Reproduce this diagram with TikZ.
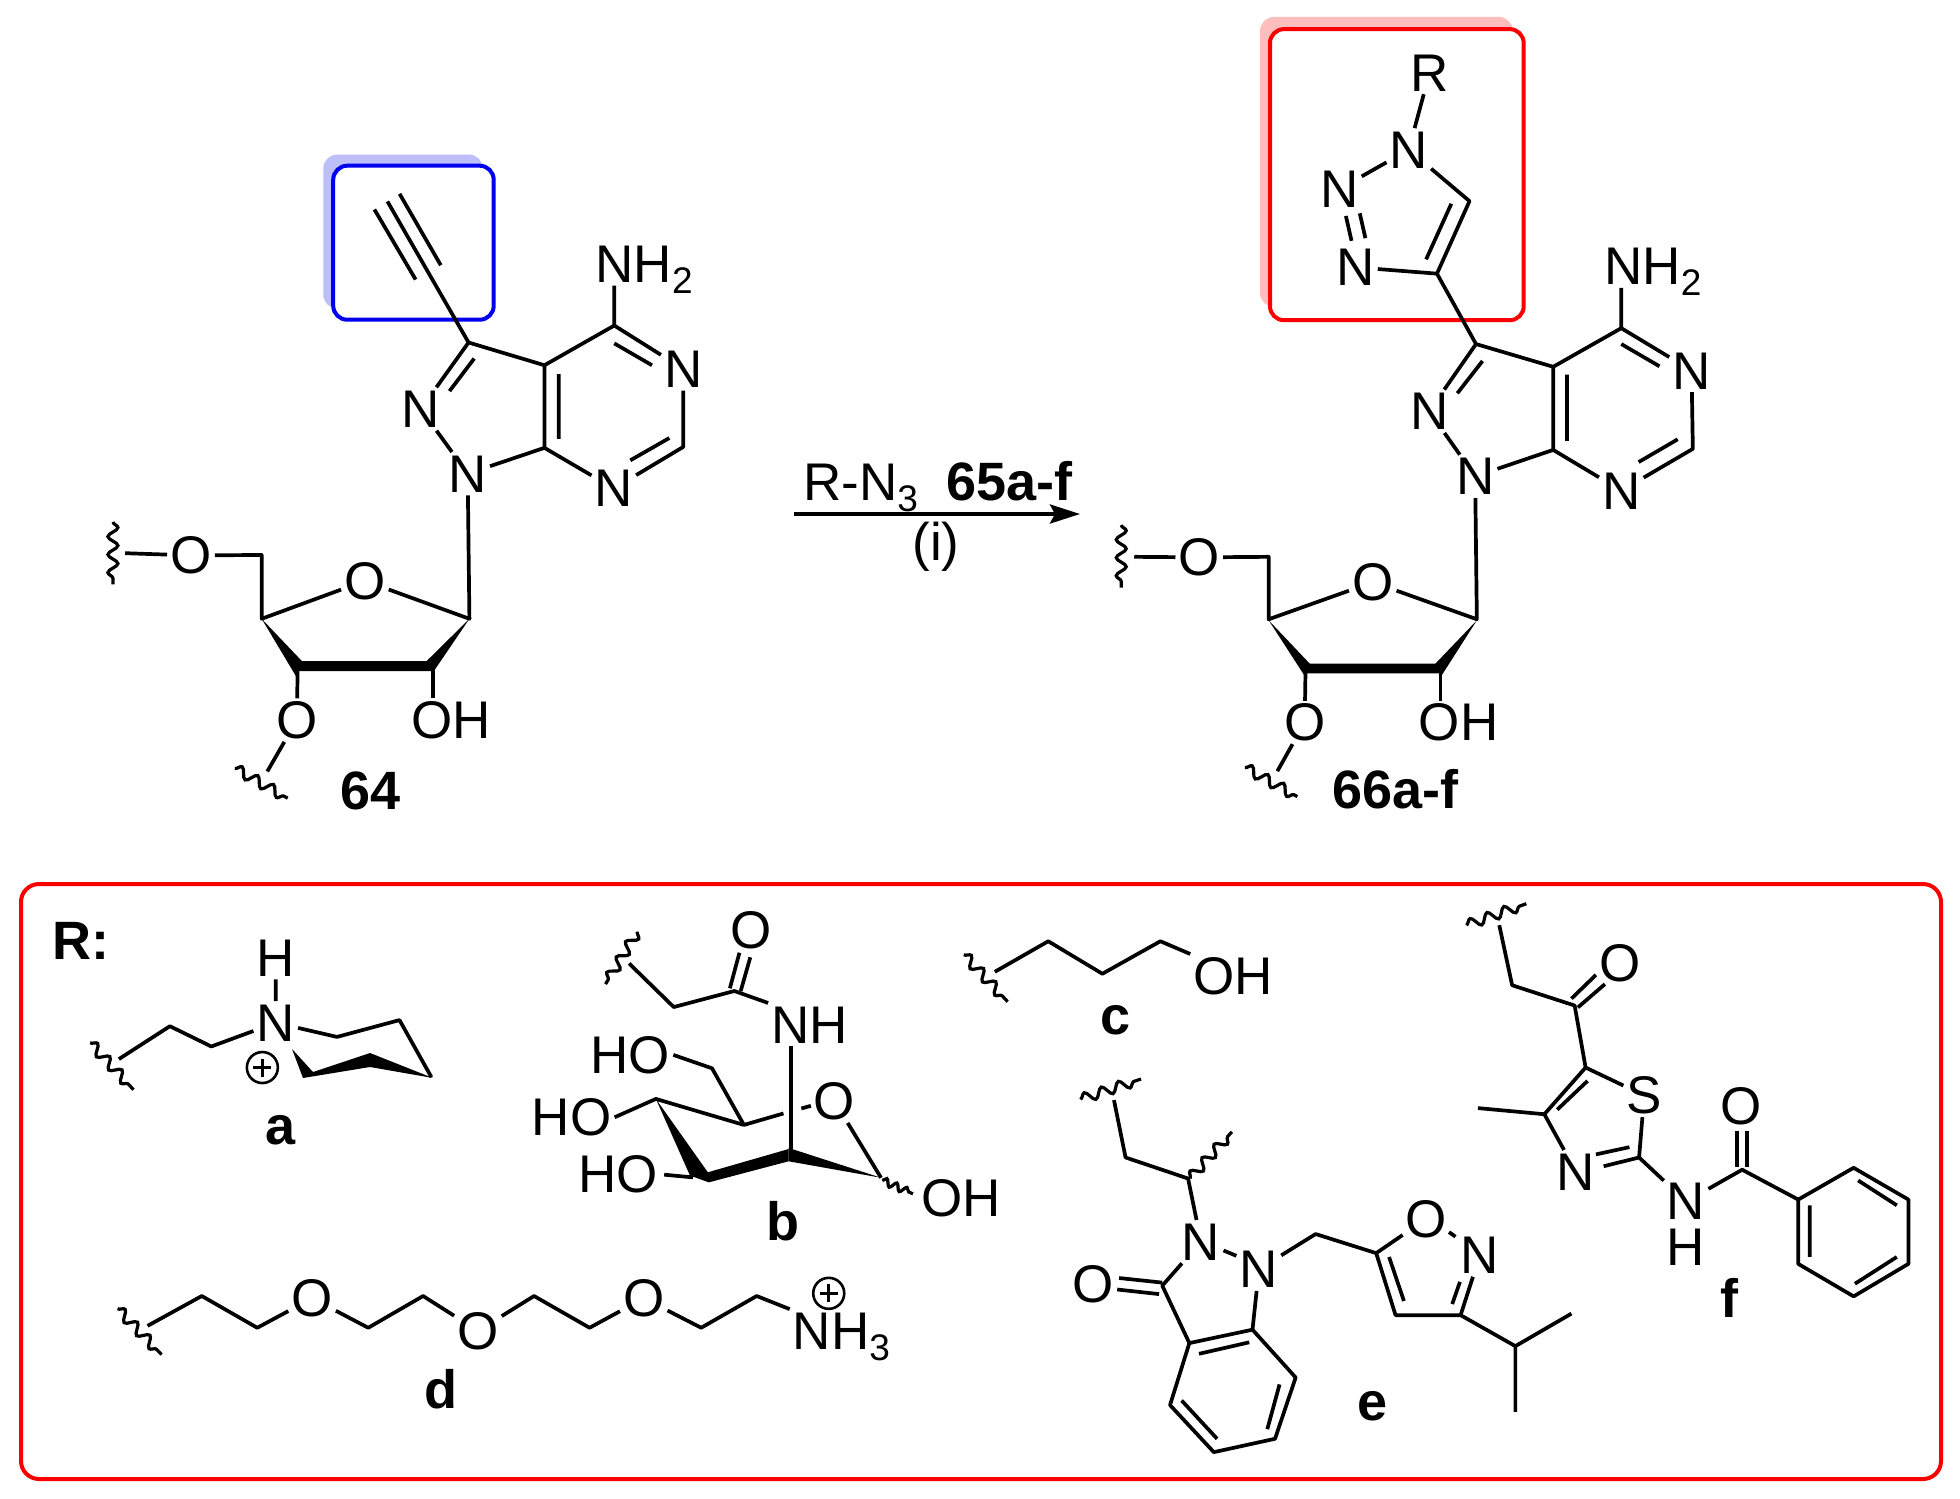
\documentclass[tikz,border=0pt]{standalone}
\usepackage{fontspec}
\setmainfont{Liberation Sans}
\usetikzlibrary{decorations.pathmorphing,arrows.meta}
\newcommand\fsz{\fontsize{53}{58}\selectfont}
\newcommand\fbz{\fontsize{54}{58}\selectfont}
\newcommand\sbs[1]{\raisebox{-11pt}{\fontsize{37}{37}\selectfont #1}}
\definecolor{frameblue}{RGB}{0,0,240}
\definecolor{shadeblue}{RGB}{190,190,250}
\definecolor{framered}{RGB}{250,0,0}
\definecolor{shadered}{RGB}{255,190,190}
\tikzset{
  bond/.style={line width=3.7pt,line join=round},
  wave/.style={line width=3.2pt,decorate,decoration={snake,segment length=18pt,amplitude=5pt}},
  atom/.style={font=\fsz,inner sep=3pt,text height=37pt,text depth=0pt},
  lab/.style={font=\fbz\bfseries,inner sep=3pt,text height=37pt,text depth=0pt},
  chg/.style={circle,draw,line width=2.6pt,minimum size=31pt,inner sep=0pt},
  hilite/.style={rounded corners=14pt,line width=4pt},
}
\newcommand\plusat[1]{\draw[line width=2.6pt] (#1.center) +(-9pt,0pt) -- +(9pt,0pt) (#1.center) +(0pt,-9pt) -- +(0pt,9pt);}
\begin{document}
\begin{tikzpicture}[x=1pt,y=-1pt]
\useasboundingbox (0,0) rectangle (1960,1499);
\fill[white] (0,0) rectangle (1960,1499);

% ---------- compound 64
\begin{scope}[shift={(60,130)},x=0.4337pt,y=-0.4464pt]
\fill[shadeblue,rounded corners=14pt] (607,55) rectangle (975,400);
\draw[hilite,frameblue,fill=white] (630,80) rectangle (1000,425);
\coordinate (ac3) at (942,476);
\coordinate (ac3a) at (1117,527);
\coordinate (ac7a) at (1117,712);
\coordinate (ac4) at (1278,438);
\coordinate (ac6) at (1437,710);
\coordinate (ac1) at (944,1095);
\coordinate (ac4p) at (465,1095);
\coordinate (ac5p) at (465,952);
\coordinate (ac3p) at (548,1205);
\coordinate (ac2p) at (860,1205);
\coordinate (aend) at (755,160);
\coordinate (awa) at (150,948);
\coordinate (awb) at (478,1437);
\node[atom] (anh2) at (1347,300) {NH\sbs{2}};
\node[atom] (an5) at (1437,535) {N};
\node[atom] (an7) at (1277,803) {N};
\node[atom] (an2) at (832,625) {N};
\node[atom] (an1) at (940,770) {N};
\node[atom] (aor) at (703,1010) {O};
\node[atom] (ao5) at (302,953) {O};
\node[atom] (ao3) at (546,1322) {O};
\node[atom] (aoh) at (902,1322) {OH};
\node[lab] (a64) at (715,1480) {64};
\draw[bond] (aend) -- (ac3) -- (ac3a) -- (ac4) -- (ac4 |- anh2.south);
\draw[bond] (725,178) -- (820,335) (783,143) -- (878,303);
\draw[bond] (ac4) -- (an5) -- (ac6) -- (an7) -- (ac7a) -- (ac3a);
\draw[bond] (1278,478) -- (1365,527) (1405,690) -- (1315,740) (1150,547) -- (1150,692);
\draw[bond] (ac3) -- (an2) -- (an1) -- (ac7a);
\draw[bond] (955,512) -- (898,585);
\draw[bond] (an1) -- (ac1) -- (aor) -- (ac4p) -- (ac5p) -- (ao5) -- (awa);
\fill (465,1095) -- (558,1190) -- (545,1225) -- cycle;
\fill (550,1190) -- (850,1190) -- (860,1212) -- (548,1212) -- cycle;
\fill (944,1095) -- (845,1190) -- (860,1215) -- cycle;
\draw[bond] (ac3p) -- (ao3) -- (awb);
\draw[bond] (ac2p) -- (ac2p |- aoh.north);
\draw[wave] (122,878) -- (122,1018);
\draw[wave] (403,1430) -- (525,1497);
\end{scope}

% ---------- arrow
\coordinate (arra) at (794,514);
\coordinate (arrb) at (1080,514);
\draw[line width=4pt,-{Stealth[length=30pt,width=19pt,inset=5pt]}] (arra) -- (arrb);
\node[atom,anchor=west] (rn3) at (800,482) {R-N\sbs{3}};
\node[lab,anchor=west] (l65) at (943,482) {65a-f};
\node[atom] (cond) at (936,542) {(i)};

% ---------- compound 66
\begin{scope}[shift={(1090,0)},x=0.4337pt,y=-0.5293pt]
\fill[shadered,rounded corners=14pt] (392,32) rectangle (975,580);
\draw[hilite,framered,fill=white] (415,55) rectangle (1000,605);
\coordinate (bc3) at (890,650);
\coordinate (bc3a) at (1068,693);
\coordinate (bc7a) at (1068,850);
\coordinate (bc4) at (1225,620);
\coordinate (bc6) at (1390,848);
\coordinate (bc1) at (892,1170);
\coordinate (bc4p) at (412,1170);
\coordinate (bc5p) at (412,1052);
\coordinate (bc3p) at (497,1262);
\coordinate (bc2p) at (808,1262);
\coordinate (bc4t) at (800,517);
\coordinate (bc5t) at (875,380);
\coordinate (bwa) at (102,1052);
\coordinate (bwb) at (432,1457);
\node[atom] (br) at (783,137) {R};
\node[atom] (bn1t) at (735,283) {N};
\node[atom] (bn2t) at (575,357) {N};
\node[atom] (bn3t) at (612,505) {N};
\node[atom] (bnh2) at (1298,503) {NH\sbs{2}};
\node[atom] (bn5) at (1387,700) {N};
\node[atom] (bn7) at (1225,927) {N};
\node[atom] (bn2) at (782,777) {N};
\node[atom] (bn1) at (888,900) {N};
\node[atom] (bor) at (652,1100) {O};
\node[atom] (bo5) at (252,1053) {O};
\node[atom] (bo3) at (495,1365) {O};
\node[atom] (boh) at (850,1365) {OH};
\node[lab] (b66) at (705,1493) {66a-f};
\draw[bond] (br) -- (bn1t) -- (bn2t);
\draw[bond] (bn1t) -- (bc5t) -- (bc4t) -- (bn3t);
\draw[bond] (833,385) -- (775,490) (590,408) -- (603,455) (622,403) -- (635,450);
\draw[bond] (bc4t) -- (bc3) -- (bc3a) -- (bc4) -- (bc4 |- bnh2.south);
\draw[bond] (bc4) -- (bn5) -- (bc6) -- (bn7) -- (bc7a) -- (bc3a);
\draw[bond] (1225,650) -- (1313,692) (1355,830) -- (1265,873) (1100,708) -- (1100,833);
\draw[bond] (bc3) -- (bn2) -- (bn1) -- (bc7a);
\draw[bond] (905,682) -- (847,743);
\draw[bond] (bn1) -- (bc1) -- (bor) -- (bc4p) -- (bc5p) -- (bo5) -- (bwa);
\fill (412,1172) -- (508,1255) -- (495,1277) -- cycle;
\fill (500,1254) -- (800,1254) -- (810,1272) -- (497,1272) -- cycle;
\fill (892,1172) -- (795,1255) -- (810,1277) -- cycle;
\draw[bond] (bc3p) -- (bo3) -- (bwb);
\draw[bond] (bc2p) -- (bc2p |- boh.north);
\draw[wave] (72,992) -- (72,1110);
\draw[wave] (357,1450) -- (478,1505);
\end{scope}

% ---------- R panel
\draw[hilite,framered,rounded corners=18pt] (21,884) rectangle (1941,1479);

\begin{scope}[shift={(20,880)},x=0.6378pt,y=-0.3827pt]
\node[lab] (rlab) at (95,160) {R:};
% a
\coordinate (pa1) at (155,468);
\coordinate (pa2) at (235,382);
\coordinate (pa3) at (300,435);
\coordinate (pa4) at (497,410);
\coordinate (pa5) at (595,366);
\coordinate (pa6) at (645,515);
\node[atom] (pah) at (401,203) {H};
\node[atom] (pan) at (401,373) {N};
\node[lab] (pal) at (408,643) {a};
\node[chg] (pac) at (380,490) {};
\plusat{pac}
\draw[bond] (pa1) -- (pa2) -- (pa3) -- (pan) -- (pah);
\draw[bond] (pan) -- (pa4) -- (pa5) -- (pa6);
\draw[wave] (110,425) -- (178,548);
% b
\coordinate (pb1) at (955,218);
\coordinate (pb2) at (1025,332);
\coordinate (pb3) at (1120,290);
\coordinate (pb4) at (1209,705);
\coordinate (pb5) at (1135,640);
\coordinate (pb6) at (1085,492);
\coordinate (pb7) at (997,572);
\coordinate (pb8) at (1350,778);
\coordinate (pb9) at (1197,610);
\node[atom] (pbo) at (1147,130) {O};
\node[atom] (pbnh) at (1238,378) {NH};
\node[atom] (pbor) at (1277,578) {O};
\node[atom] (pbho1) at (957,457) {HO};
\node[atom] (pbho2) at (865,620) {HO};
\node[atom] (pbho3) at (938,767) {HO};
\node[atom] (pboh) at (1475,830) {OH};
\node[lab] (pbl) at (1197,893) {b};
\draw[bond] (pb1) -- (pb2) -- (pb3) -- (pbnh.north west);
\draw[bond] (1113,283) -- (1128,190) (1130,290) -- (1145,202);
\draw[bond] (pb4) -- (pb4 |- pbnh.south);
\draw[bond] (pb9) -- (pb5) -- (pb6) -- (pbho1.east);
\draw[bond] (pb5) -- (pb7) -- (pbho2.east);
\draw[bond] (pbor) -- (pb8);
\draw[bond] (1225,597) -- (1240,590);
\draw[bond] (1010,770) -- (1055,777);
\fill (pb7) -- (1079,765) -- (1052,778) -- cycle;
\fill (1055,775) -- (1205,703) -- (1205,735) -- (1080,790) -- cycle;
\fill (1205,700) -- (pb8) -- (1205,735) -- cycle;
\draw[wave,decoration={snake,segment length=11pt,amplitude=3.5pt}] (1352,785) -- (1400,820);
\draw[wave] (968,135) -- (918,272);
% d
\coordinate (pd1) at (200,1165);
\coordinate (pd2) at (285,1087);
\coordinate (pd3) at (372,1170);
\coordinate (pd4) at (546,1170);
\coordinate (pd5) at (632,1087);
\coordinate (pd6) at (806,1087);
\coordinate (pd7) at (893,1170);
\coordinate (pd8) at (1068,1170);
\coordinate (pd9) at (1155,1087);
\node[atom] (pdo1) at (458,1093) {O};
\node[atom] (pdo2) at (718,1178) {O};
\node[atom] (pdo3) at (978,1093) {O};
\node[atom] (pdn) at (1288,1178) {NH\sbs{3}};
\node[chg] (pdc) at (1268,1080) {};
\plusat{pdc}
\node[lab] (pdl) at (660,1333) {d};
\draw[bond] (pd1) -- (pd2) -- (pd3) -- (pdo1) -- (pd4) -- (pd5) -- (pdo2) -- (pd6) -- (pd7) -- (pdo3) -- (pd8) -- (pd9) -- (pdn.north west);
\draw[wave] (153,1120) -- (222,1240);
\end{scope}

% wedges of a, in plain picture units
\fill (292,1049) -- (313,1072) -- (370,1053) -- (433,1078) -- (370,1067) -- (303,1078) -- cycle;

\begin{scope}[shift={(940,880)},x=0.6443pt,y=-0.3827pt]
% c
\coordinate (pc1) at (85,240);
\coordinate (pc2) at (168,160);
\coordinate (pc3) at (252,245);
\coordinate (pc4) at (342,160);
\node[atom] (pcoh) at (455,250) {OH};
\node[lab] (pcl) at (272,356) {c};
\draw[bond] (pc1) -- (pc2) -- (pc3) -- (pc4) -- (pcoh.north west);
\draw[wave] (37,195) -- (105,318);
% e
\coordinate (pe1) at (270,575);
\coordinate (pe2) at (288,725);
\coordinate (pe3) at (385,780);
\coordinate (pe4) at (345,1060);
\coordinate (pe5) at (387,1210);
\coordinate (pe6) at (485,1175);
\coordinate (pe7) at (552,1300);
\coordinate (pe8) at (520,1460);
\coordinate (pe9) at (425,1495);
\coordinate (pe10) at (357,1372);
\coordinate (pe11) at (583,925);
\coordinate (pe12) at (677,975);
\coordinate (pe13) at (707,1137);
\coordinate (pe14) at (808,1137);
\coordinate (pe15) at (893,1218);
\coordinate (pe16) at (980,1133);
\coordinate (pe17) at (893,1390);
\node[atom] (pen1) at (405,945) {N};
\node[atom] (pen2) at (495,1017) {N};
\node[atom] (peo) at (237,1055) {O};
\node[atom] (peoi) at (755,885) {O};
\node[atom] (peni) at (838,980) {N};
\node[lab] (pel) at (672,1363) {e};
\draw[bond] (pe1) -- (pe2) -- (pe3) -- (pen1);
\draw[bond] (440,968) -- (460,982);
\draw[bond] (pen1) -- (pe4) -- (pe5) -- (pe6) -- (pen2) -- (pe11) -- (pe12) -- (peoi);
\draw[bond] (278,1040) -- (345,1052) (275,1070) -- (340,1082);
\draw[bond] (pe6) -- (pe7) -- (pe8) -- (pe9) -- (pe10) -- (pe5);
\draw[bond] (402,1238) -- (480,1208) (527,1318) -- (508,1435) (430,1460) -- (375,1360);
\draw[bond] (790,920) -- (800,932);
\draw[bond] (pe12) -- (pe13) -- (pe14) -- (peni);
\draw[bond] (697,985) -- (720,1100) (795,1108) -- (807,1050);
\draw[bond] (pe14) -- (pe15) -- (pe16) (pe15) -- (pe17);
\draw[wave] (218,573) -- (312,520);
\draw[wave] (388,780) -- (453,658);
% f
\coordinate (pf1) at (868,118);
\coordinate (pf2) at (888,275);
\coordinate (pf3) at (985,328);
\coordinate (pf4) at (1002,490);
\coordinate (pf5) at (938,612);
\coordinate (pf6) at (835,596);
\coordinate (pf7) at (1085,725);
\coordinate (pf8) at (1245,757);
\coordinate (pf9) at (1332,835);
\coordinate (pf10) at (1418,752);
\coordinate (pf11) at (1503,835);
\coordinate (pf12) at (1503,1003);
\coordinate (pf13) at (1418,1088);
\coordinate (pf14) at (1332,1003);
\node[atom] (pfo1) at (1055,218) {O};
\node[atom] (pfs) at (1093,563) {S};
\node[atom] (pfn) at (987,762) {N};
\node[atom] (pfnh) at (1158,840) {N};
\node[atom] (pfh) at (1158,958) {H};
\node[atom] (pfo2) at (1243,590) {O};
\node[lab] (pfl) at (1225,1095) {f};
\draw[bond] (pf1) -- (pf2) -- (pf3) -- (pf4) -- (pfs) -- (pf7) -- (pfnh) -- (pf8) -- (pf9);
\draw[bond] (pf4) -- (pf5) -- (pfn);
\draw[bond] (pf6) -- (pf5);
\draw[bond] (980,310) -- (1018,248) (990,333) -- (1032,272);
\draw[bond] (1005,525) -- (958,600);
\draw[bond] (1018,717) -- (1070,698) (1030,748) -- (1085,725);
\draw[bond] (1237,655) -- (1237,750) (1252,655) -- (1252,750);
\draw[bond] (pf9) -- (pf10) -- (pf11) -- (pf12) -- (pf13) -- (pf14) -- cycle;
\draw[bond] (1425,785) -- (1485,850) (1485,985) -- (1420,1055) (1350,985) -- (1350,850);
\draw[wave] (817,118) -- (910,62);
\end{scope}
\end{tikzpicture}
\end{document}
